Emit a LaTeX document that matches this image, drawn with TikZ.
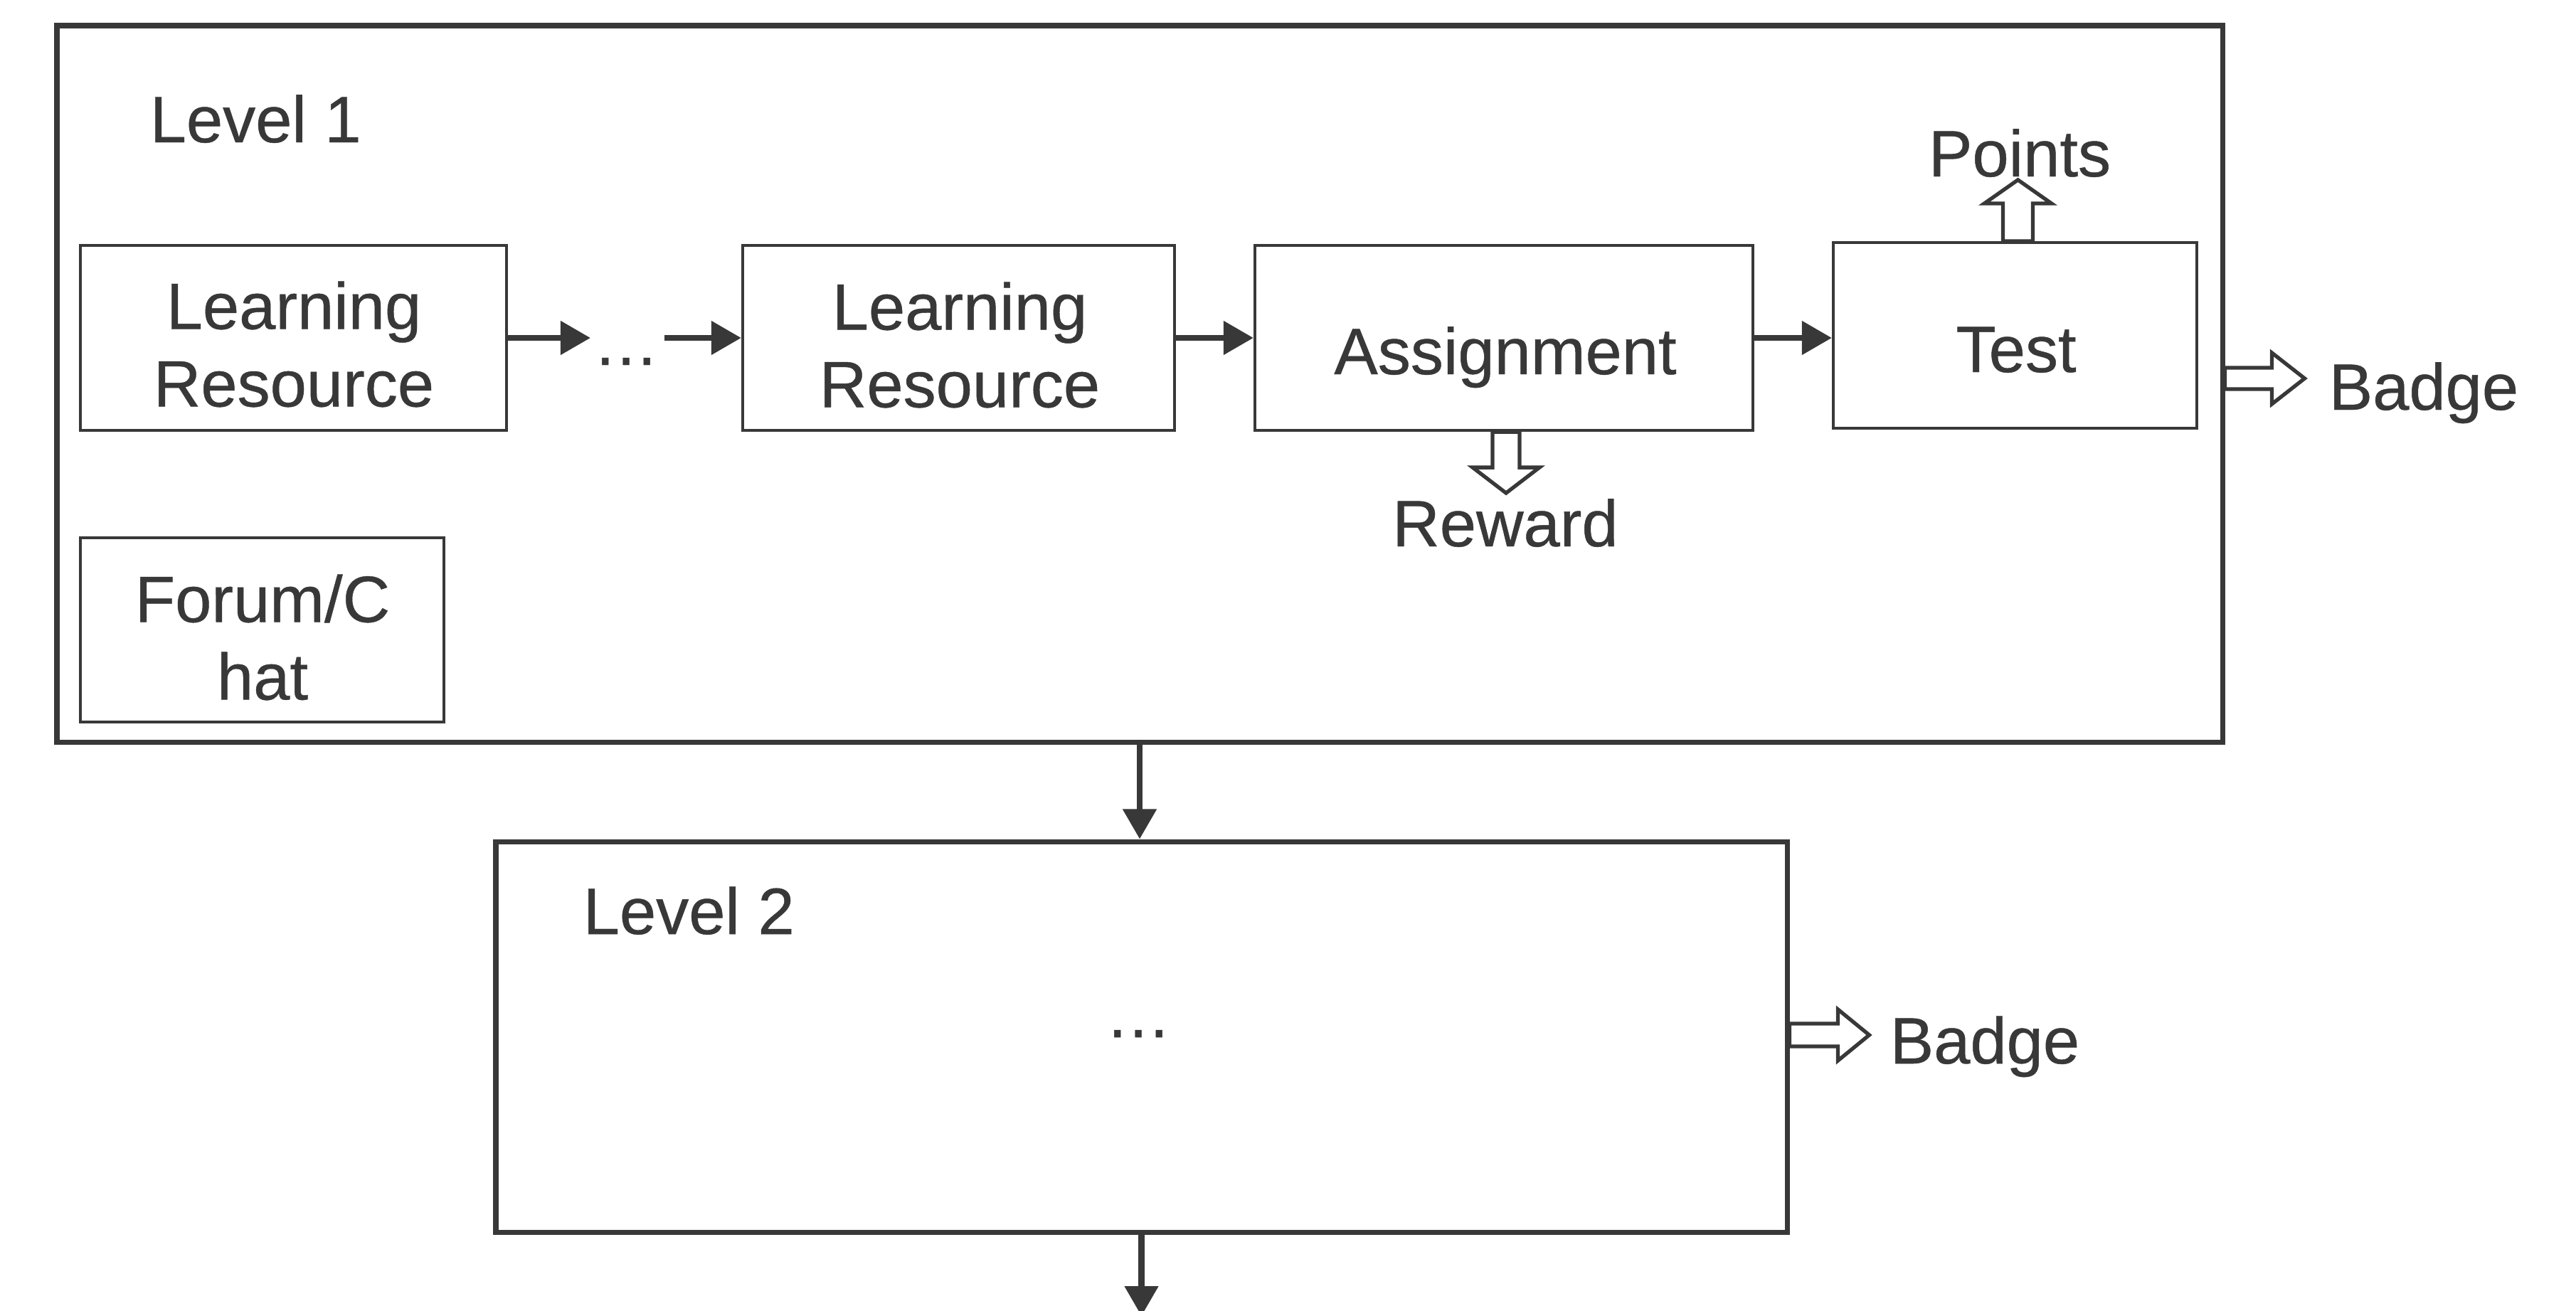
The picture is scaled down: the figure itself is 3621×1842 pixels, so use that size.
\documentclass[tikz,border=0pt]{standalone}
\usepackage{fontspec}
\setmainfont{Liberation Sans}
\newfontfamily\diagfont[FakeBold=0.5]{Liberation Sans}
\usetikzlibrary{arrows.meta,fit}
\definecolor{ink}{HTML}{383838}
\begin{document}
\begin{tikzpicture}[x=0.01cm,y=-0.01cm,
  every node/.style={font=\diagfont\fontsize{26.2pt}{31pt}\selectfont, text=ink},
  obox/.style={draw=ink, line width=2pt, inner sep=0pt},
  ibox/.style={draw=ink, line width=1.2pt, inner sep=0pt},
  txt/.style={inner sep=0pt, align=center},
  arr/.style={draw=ink, line width=2.3pt, -{Triangle[length=0.42cm,width=0.46cm]}},
  hollow/.style={draw=ink, line width=1.5pt, fill=white, line join=miter},
]
\useasboundingbox (0,0) rectangle (3621,1842);
% boxes
\node[obox, fit={(80,36) (3124,1043)}] (l1) {};
\node[obox, fit={(697,1183) (2512,1732)}] (l2) {};
\node[ibox, fit={(113,345) (712,605)}] (lr1) {};
\node[ibox, fit={(1044,345) (1651,605)}] (lr2) {};
\node[ibox, fit={(1764,345) (2464,605)}] (asg) {};
\node[ibox, fit={(2577,341) (3088,602)}] (test) {};
\node[ibox, fit={(113,756) (624,1015)}] (forum) {};
% texts
\node[txt, anchor=base west] (t1) at (210,200) {Level 1};
\node[txt, anchor=base west] (t2) at (819,1313) {Level 2};
\node[txt] (tlr1) at (413,484) {Learning\\Resource};
\node[txt] (tlr2) at (1349,485) {Learning\\Resource};
\node[txt] (tfor) at (369,896) {Forum/C\\hat};
\node[txt, anchor=base] (tasg) at (2116,526) {Assignment};
\node[txt, anchor=base] (ttest) at (2834,523) {Test};
\node[txt, anchor=base] (tpts) at (2839,248) {Points};
\node[txt, anchor=base] (trew) at (2116,768) {Reward};
\node[txt, anchor=base west] (tb1) at (3273,576) {Badge};
\node[txt, anchor=base west] (tb2) at (2656,1495) {Badge};
\node[txt, anchor=base] (dots1) at (880,513) {\ldots};
\node[txt, anchor=base] (dots2) at (1600,1458) {\ldots};
% solid connectors
\coordinate (d1) at (830,475);
\coordinate (d2) at (934,475);
\coordinate (bot) at (1604.5,1850);
\draw[arr] (lr1.east) -- (d1);
\draw[arr] (d2) -- (lr2.west);
\draw[arr] (lr2.east) -- (asg.west);
\draw[arr] (asg.east) -- (asg.east -| test.west);
\draw[arr] (l1.south) -- (l1.south |- l2.north);
\draw[arr] (l2.south) -- (l2.south |- bot);
% hollow block arrows
\begin{scope}[shift={(test.north)}, shift={(4,0)}]
  \draw[hollow] (-21,0) -- (-21,-53) -- (-47,-53) -- (0,-86) -- (47,-53) -- (21,-53) -- (21,0) -- cycle;
\end{scope}
\begin{scope}[shift={(asg.south)}, shift={(3,0)}]
  \draw[hollow] (-19,0) -- (-19,50) -- (-47,50) -- (0,86) -- (47,50) -- (19,50) -- (19,0) -- cycle;
\end{scope}
\begin{scope}[shift={(l1.east)}, shift={(0,-7.5)}]
  \draw[hollow] (0,-15) -- (66,-15) -- (66,-36) -- (112,0) -- (66,36) -- (66,15) -- (0,15) -- cycle;
\end{scope}
\begin{scope}[shift={(l2.east)}, shift={(0,-2.5)}]
  \draw[hollow] (0,-16) -- (68,-16) -- (68,-36) -- (112,0) -- (68,36) -- (68,16) -- (0,16) -- cycle;
\end{scope}
\end{tikzpicture}
\end{document}
